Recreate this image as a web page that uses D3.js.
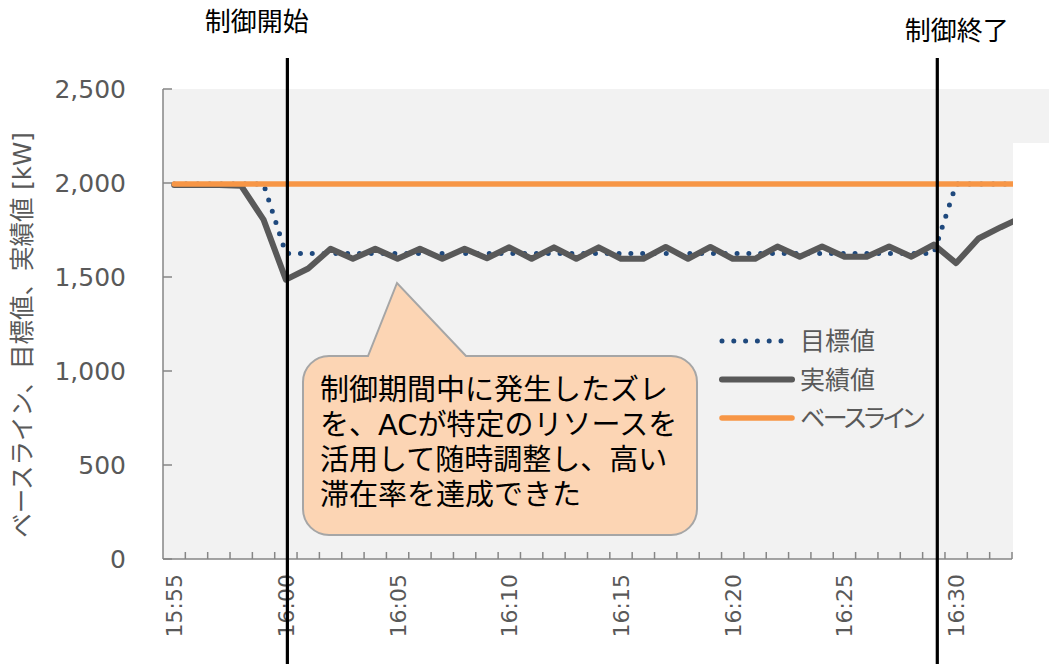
<!DOCTYPE html>
<html><head><meta charset="utf-8">
<script src="https://cdn.jsdelivr.net/npm/d3@7"></script>
<style>
html,body{margin:0;padding:0;background:#fff;}
.jp{font-family:"DejaVu Sans","Noto Sans CJK JP",sans-serif;}
.palt{font-feature-settings:"palt";}
</style></head>
<body><svg id="chart" width="1049" height="664"></svg>
<script>
// ---- data ----
const times = ["15:55","15:56","15:57","15:58","15:59","16:00","16:01","16:02","16:03","16:04",
"16:05","16:06","16:07","16:08","16:09","16:10","16:11","16:12","16:13","16:14",
"16:15","16:16","16:17","16:18","16:19","16:20","16:21","16:22","16:23","16:24",
"16:25","16:26","16:27","16:28","16:29","16:30","16:31","16:32","16:33"];
const actual = [1990,1990,1990,1985,1805,1486,1545,1650,1597,1650,
1597,1650,1597,1650,1600,1658,1597,1658,1597,1658,
1597,1597,1660,1597,1660,1597,1597,1662,1608,1662,
1608,1608,1662,1608,1672,1574,1705,1765,1820];
const target = [1995,1995,1995,1995,1995,1625,1625,1625,1625,1625,
1625,1625,1625,1625,1625,1625,1625,1625,1625,1625,
1625,1625,1625,1625,1625,1625,1625,1625,1625,1625,
1625,1625,1625,1625,1625,1995,1995,1995,1995];
const baseline = times.map(() => 1995);
const visibleCount = 38;           // categories shown on the axis (15:55 - 16:32)
const yTicks = [0,500,1000,1500,2000,2500];
const xLabelEvery = 5;
const seriesNames = ["目標値","実績値","ベースライン"];
const yTitle = "ベースライン、目標値、実績値 [kW]";
const startLabel = "制御開始", endLabel = "制御終了";
const startTime = "16:00", endTime = "16:29";
const calloutLines = ["制御期間中に発生したズレ","を、ACが特定のリソースを","活用して随時調整し、高い","滞在率を達成できた"];

// ---- layout ----
const svg = d3.select("#chart");
const L = 163, R = 1012, T = 89, B = 559;
const x = d3.scaleLinear().domain([0, visibleCount]).range([L, R]);
const y = d3.scaleLinear().domain([0, 2500]).range([B, T]);
const cx = i => x(i + 0.5);

// plot background (extends to the page edge at the top right)
svg.append("rect").attr("x", L).attr("y", T).attr("width", 1049 - L).attr("height", B - T).attr("fill", "#f2f2f2");

svg.append("defs").append("clipPath").attr("id","clip")
  .append("rect").attr("x", L).attr("y", 0).attr("width", 1013 - L).attr("height", 664);

const g = svg.append("g").attr("clip-path","url(#clip)");
const line = d3.line().x((d,i) => cx(i)).y(d => y(d));

g.append("path").datum(target).attr("d", line).attr("fill","none")
  .attr("stroke","#1f497d").attr("stroke-width",5).attr("stroke-linecap","round")
  .attr("stroke-dasharray","0 11.8");
g.append("path").datum(actual).attr("d", line).attr("fill","none")
  .attr("stroke","#595959").attr("stroke-width",6).attr("stroke-linejoin","round").attr("stroke-linecap","round");
g.append("path").datum(baseline).attr("d", line).attr("fill","none")
  .attr("stroke","#f79646").attr("stroke-width",5.5).attr("stroke-linecap","round");

// white overlay box at right
svg.append("rect").attr("x",1013).attr("y",143).attr("width",40).attr("height",530).attr("fill","#fff");

// axes
const axisColor = "#868686";
svg.append("line").attr("x1",L).attr("x2",L).attr("y1",T).attr("y2",B).attr("stroke",axisColor).attr("stroke-width",1.5);
svg.append("line").attr("x1",L).attr("x2",R).attr("y1",B).attr("y2",B).attr("stroke",axisColor).attr("stroke-width",1.5);
yTicks.forEach(v => {
  svg.append("line").attr("x1",L).attr("x2",L+9).attr("y1",y(v)).attr("y2",y(v)).attr("stroke",axisColor).attr("stroke-width",1.5);
  svg.append("text").attr("x",126).attr("y",y(v)).attr("dy","0.36em").attr("text-anchor","end")
    .attr("font-family","DejaVu Sans").attr("font-size",25).attr("fill","#595959").text(d3.format(",")(v));
});
d3.range(1, visibleCount + 1).forEach(i => {
  svg.append("line").attr("x1",x(i)).attr("x2",x(i)).attr("y1",B).attr("y2",B-7).attr("stroke",axisColor).attr("stroke-width",1.5);
});
times.slice(0, visibleCount).forEach((t,i) => {
  if (i % xLabelEvery !== 0) return;
  svg.append("text").attr("transform",`translate(${cx(i)},574) rotate(-90)`).attr("dy","0.36em")
    .attr("text-anchor","end").attr("font-family","DejaVu Sans").attr("font-size",22).attr("fill","#595959").text(t);
});

// y title
svg.append("text").attr("class","jp").attr("transform","translate(22,335) rotate(-90)").attr("dy","0.36em")
  .attr("text-anchor","middle").attr("font-size",24.5).attr("fill","#595959").text(yTitle);

// legend
const lg = svg.append("g");
const legY = [341, 379.5, 418];
const legStyles = [
  {stroke:"#1f497d", w:5, dash:"0 11.8", x2:785},
  {stroke:"#595959", w:6, dash:null, x2:792},
  {stroke:"#f79646", w:5.5, dash:null, x2:792}
];
seriesNames.forEach((n,i) => {
  const s = legStyles[i];
  const l = lg.append("line").attr("x1",722).attr("x2",s.x2).attr("y1",legY[i]).attr("y2",legY[i])
    .attr("stroke",s.stroke).attr("stroke-width",s.w).attr("stroke-linecap","round");
  if (s.dash) l.attr("stroke-dasharray",s.dash);
  lg.append("text").attr("class","jp palt").attr("x",800).attr("y",legY[i]).attr("dy","0.36em")
    .attr("font-size",25).attr("letter-spacing", i === 2 ? -2.5 : 0).attr("fill","#595959").text(n);
});

// control start / end markers
const xs = cx(times.indexOf(startTime)) + 1.5;
const xe = cx(times.indexOf(endTime)) + 3.5;
[[xs, startLabel, 31, -30.5], [xe, endLabel, 40, 19.5]].forEach(([xx, lab, by, off]) => {
  svg.append("line").attr("x1",xx).attr("x2",xx).attr("y1",58).attr("y2",664).attr("stroke","#000").attr("stroke-width",3.2);
  svg.append("text").attr("class","jp").attr("x",xx + off).attr("y",by).attr("text-anchor","middle")
    .attr("font-size",26).attr("fill","#000").text(lab);
});

// callout
const bx = 303, by0 = 356, bw = 394, bh = 179, r = 26;
const tipX = 397, tipY = 283, b1 = 368, b2 = 466;
const p = d3.path();
p.moveTo(bx + r, by0);
p.lineTo(b1, by0); p.lineTo(tipX, tipY); p.lineTo(b2, by0);
p.lineTo(bx + bw - r, by0); p.arcTo(bx + bw, by0, bx + bw, by0 + r, r);
p.lineTo(bx + bw, by0 + bh - r); p.arcTo(bx + bw, by0 + bh, bx + bw - r, by0 + bh, r);
p.lineTo(bx + r, by0 + bh); p.arcTo(bx, by0 + bh, bx, by0 + bh - r, r);
p.lineTo(bx, by0 + r); p.arcTo(bx, by0, bx + r, by0, r);
p.closePath();
svg.append("path").attr("d", p.toString()).attr("fill","#fcd5b4").attr("stroke","#a6a6a6").attr("stroke-width",2);
calloutLines.forEach((t,i) => {
  svg.append("text").attr("class","jp").attr("x",320).attr("y",400 + i*35)
    .attr("font-size",29).attr("fill","#000").text(t);
});
</script></body></html>
